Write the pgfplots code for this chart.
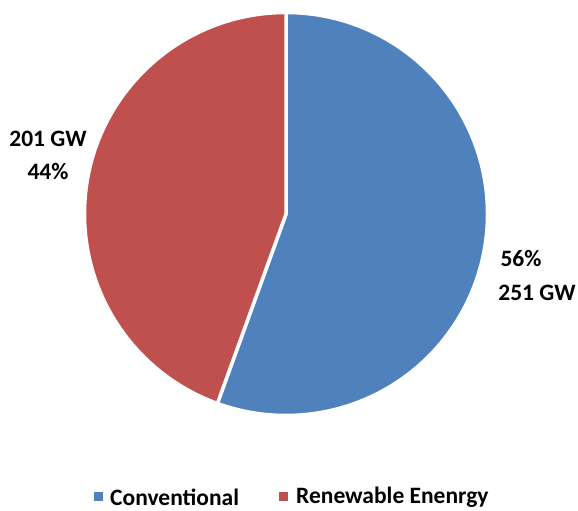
\documentclass[border=0pt]{standalone}
\usepackage{pgfplots}
\pgfplotsset{compat=1.18}
\usepackage{fontspec}
\setmainfont{Carlito}
\definecolor{convblue}{HTML}{4F81BD}
\definecolor{renred}{HTML}{C0504D}
\begin{document}
\begin{tikzpicture}[lbl/.style={inner sep=0pt, font=\fontsize{23.5}{28}\selectfont\bfseries}]
% values in GW
\pgfmathsetmacro{\conv}{251}
\pgfmathsetmacro{\renew}{201}
\pgfmathsetmacro{\tot}{\conv+\renew}
\pgfmathsetmacro{\splitang}{90-360*(\conv/\tot)}
\begin{axis}[
  x=1pt, y=1pt,
  xmin=0, xmax=578, ymin=0, ymax=511,
  hide axis, clip=false,
  scale only axis,
]
\path (axis cs:0,0) rectangle (axis cs:578,511);
% conventional slice, clockwise from the top
\filldraw[fill=convblue, draw=white, line width=3.5pt, line join=round]
  (axis cs:286,297) -- ++(90:201.5pt) arc[start angle=90, end angle=\splitang, radius=201.5pt] -- cycle;
% renewable slice
\filldraw[fill=renred, draw=white, line width=3.5pt, line join=round]
  (axis cs:286,297) -- ++(90:201.5pt) arc[start angle=90, end angle=\splitang+360, radius=201.5pt] -- cycle;
\node[lbl] at (axis cs:48,372) {201 GW};
\node[lbl] at (axis cs:48,339) {44\%};
\node[lbl] at (axis cs:521,253) {56\%};
\node[lbl] at (axis cs:537,218) {251 GW};
% legend
\fill[convblue] (axis cs:94,10) rectangle (axis cs:103,19);
\node[lbl, anchor=west] at (axis cs:110,14) {Conventional};
\fill[renred] (axis cs:279,10) rectangle (axis cs:288,19);
\node[lbl, anchor=west] at (axis cs:296,14) {Renewable Enenrgy};
\end{axis}
\end{tikzpicture}
\end{document}
